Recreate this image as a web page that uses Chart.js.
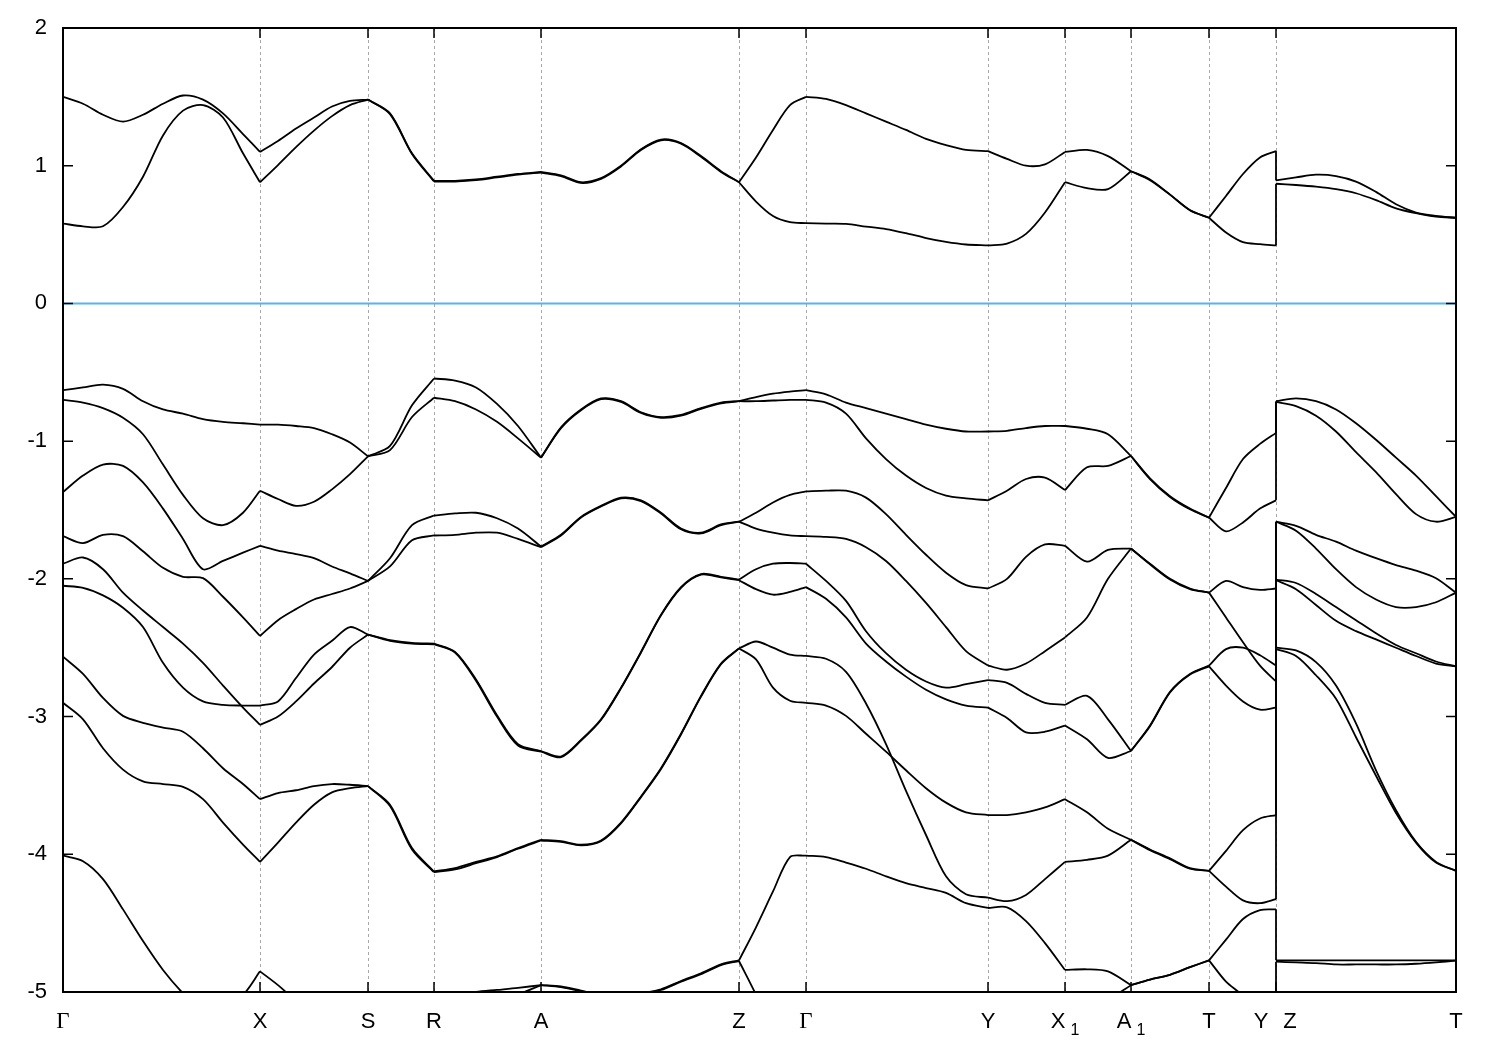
<!DOCTYPE html>
<html>
<head>
<meta charset="utf-8">
<script src="https://cdn.jsdelivr.net/npm/chart.js@4.4.0/dist/chart.umd.min.js"></script>
<style>
html, body { margin: 0; background: #fff; }
#wrap { width: 1500px; height: 1050px; }
</style>
</head>
<body>
<div id="wrap"><canvas id="bandCanvas"></canvas></div>
<script>
// k-path distance of every sample (Y and Z share the same k, hence the jump)
var kPath = [0,20,40,60,80,100,120,140,160,180,197,
  215,233,251,269,287,305,
  327,349,371,
  392,413,434,455,478,
  498,518,538,558,578,598,618,638,658,676,
  693,710,727,743,
  763,783,803,823,843,863,883,903,925,
  944,963,982,1002,
  1024,1045,1068,
  1087,1107,1127,1146,
  1163,1180,1197,1213,
  1213,1233,1253,1273,1293,1313,1333,1353,1373,1393];

// high-symmetry points
var symK = [0,197,305,371,478,676,743,925,1002,1068,1146,1213,1393];
var symLabels = ['Γ','X','S','R','A','Z','Γ','Y','X1','A1','T','Y|Z','T'];
// sample index where each path segment ends (62 -> 63 is the Y|Z jump)
var segEnds = [10,16,19,24,34,38,47,51,54,58,62,63,72];
var yTicks = [2,1,0,-1,-2,-3,-4,-5];

// conduction bands (eV)
var c1 = [0.58,0.56,0.56,0.70,0.92,1.22,1.40,1.44,1.35,1.09,0.88,
  1.005,1.135,1.255,1.36,1.44,1.48,
  1.375,1.085,0.885,
  0.885,0.895,0.915,0.935,0.95,
  0.925,0.875,0.905,0.995,1.115,1.185,1.16,1.065,0.955,0.88,
  0.74,0.635,0.59,0.583,
  0.58,0.578,0.558,0.54,0.51,0.475,0.447,0.428,0.421,
  0.435,0.505,0.66,0.88,
  0.837,0.83,0.96,
  0.895,0.79,0.677,0.622,
  0.515,0.445,0.43,0.421,
  0.869,0.86,0.848,0.83,0.80,0.75,0.69,0.655,0.63,0.622];
var c2 = [1.50,1.45,1.37,1.32,1.37,1.45,1.51,1.48,1.38,1.23,1.10,
  1.18,1.27,1.35,1.43,1.47,1.48,
  1.38,1.09,0.89,
  0.89,0.90,0.92,0.94,0.955,
  0.93,0.88,0.91,1.00,1.12,1.19,1.165,1.07,0.96,0.88,
  1.06,1.26,1.44,1.50,
  1.485,1.44,1.38,1.32,1.26,1.195,1.15,1.115,1.106,
  1.05,1.00,1.01,1.10,
  1.115,1.07,0.96,
  0.90,0.79,0.677,0.622,
  0.78,0.94,1.06,1.106,
  0.893,0.915,0.935,0.925,0.885,0.81,0.72,0.66,0.635,0.622];

// valence bands (eV)
var v1 = [-0.63,-0.61,-0.59,-0.62,-0.71,-0.77,-0.80,-0.84,-0.86,-0.87,-0.88,
  -0.88,-0.89,-0.905,-0.95,-1.01,-1.11,
  -1.035,-0.74,-0.545,
  -0.56,-0.61,-0.73,-0.89,-1.12,
  -0.90,-0.77,-0.69,-0.71,-0.79,-0.825,-0.81,-0.76,-0.72,-0.71,
  -0.68,-0.655,-0.64,-0.63,
  -0.66,-0.72,-0.76,-0.80,-0.84,-0.88,-0.91,-0.93,-0.93,
  -0.925,-0.905,-0.89,-0.89,
  -0.91,-0.95,-1.108,
  -1.27,-1.40,-1.49,-1.555,
  -1.34,-1.13,-1.02,-0.94,
  -0.71,-0.69,-0.71,-0.77,-0.87,-0.99,-1.12,-1.25,-1.40,-1.55];
var v2 = [-0.70,-0.72,-0.76,-0.83,-0.95,-1.17,-1.39,-1.56,-1.61,-1.52,-1.36,
  -1.42,-1.47,-1.44,-1.35,-1.24,-1.11,
  -1.065,-0.825,-0.685,
  -0.71,-0.77,-0.86,-0.98,-1.12,
  -0.905,-0.775,-0.695,-0.715,-0.795,-0.83,-0.815,-0.765,-0.725,-0.71,
  -0.71,-0.705,-0.70,-0.70,
  -0.72,-0.80,-0.98,-1.13,-1.25,-1.34,-1.395,-1.415,-1.43,
  -1.36,-1.275,-1.265,-1.355,
  -1.19,-1.18,-1.108,
  -1.275,-1.405,-1.495,-1.555,
  -1.655,-1.59,-1.49,-1.43,
  -0.715,-0.745,-0.815,-0.93,-1.08,-1.225,-1.385,-1.53,-1.585,-1.55];
var v3 = [-1.37,-1.25,-1.17,-1.18,-1.30,-1.49,-1.71,-1.93,-1.87,-1.81,-1.76,
  -1.795,-1.82,-1.85,-1.91,-1.96,-2.015,
  -1.85,-1.61,-1.54,
  -1.525,-1.52,-1.56,-1.635,-1.765,
  -1.68,-1.55,-1.47,-1.41,-1.43,-1.52,-1.635,-1.665,-1.605,-1.585,
  -1.52,-1.445,-1.39,-1.365,
  -1.36,-1.36,-1.41,-1.53,-1.68,-1.825,-1.955,-2.045,-2.07,
  -2.00,-1.84,-1.75,-1.76,
  -1.875,-1.79,-1.78,
  -1.89,-2.00,-2.07,-2.10,
  -2.015,-2.06,-2.08,-2.07,
  -1.585,-1.615,-1.68,-1.73,-1.795,-1.85,-1.90,-1.94,-1.995,-2.10];
var v4 = [-1.69,-1.74,-1.68,-1.69,-1.80,-1.92,-1.985,-1.995,-2.13,-2.28,-2.415,
  -2.30,-2.22,-2.15,-2.11,-2.07,-2.015,
  -1.91,-1.72,-1.685,
  -1.68,-1.665,-1.665,-1.71,-1.77,
  -1.685,-1.555,-1.475,-1.415,-1.435,-1.525,-1.64,-1.67,-1.61,-1.585,
  -1.635,-1.665,-1.685,-1.69,
  -1.695,-1.71,-1.77,-1.87,-2.015,-2.175,-2.35,-2.525,-2.63,
  -2.66,-2.615,-2.525,-2.425,
  -2.28,-2.00,-1.78,
  -1.895,-2.005,-2.075,-2.10,
  -2.28,-2.46,-2.63,-2.745,
  -1.585,-1.65,-1.78,-1.93,-2.06,-2.15,-2.205,-2.205,-2.17,-2.10];
var v5 = [-1.89,-1.845,-1.93,-2.10,-2.23,-2.35,-2.47,-2.61,-2.775,-2.935,-3.06,
  -3.00,-2.89,-2.76,-2.64,-2.50,-2.405,
  -2.445,-2.465,-2.47,
  -2.53,-2.73,-2.99,-3.20,-3.25,
  -3.29,-3.17,-3.02,-2.79,-2.53,-2.26,-2.06,-1.965,-1.985,-2.005,
  -1.93,-1.89,-1.885,-1.89,
  -2.015,-2.16,-2.38,-2.54,-2.66,-2.745,-2.79,-2.765,-2.735,
  -2.755,-2.835,-2.90,-2.915,
  -2.85,-3.02,-3.25,
  -3.065,-2.82,-2.69,-2.63,
  -2.51,-2.50,-2.555,-2.63,
  -2.005,-2.03,-2.11,-2.205,-2.30,-2.395,-2.48,-2.54,-2.60,-2.635];
var v6 = [-2.05,-2.065,-2.12,-2.21,-2.35,-2.61,-2.79,-2.89,-2.915,-2.92,-2.92,
  -2.89,-2.72,-2.55,-2.45,-2.35,-2.405,
  -2.45,-2.47,-2.475,
  -2.535,-2.74,-3.00,-3.21,-3.255,
  -3.295,-3.175,-3.025,-2.795,-2.535,-2.265,-2.065,-1.97,-1.99,-2.01,
  -2.075,-2.115,-2.095,-2.06,
  -2.145,-2.28,-2.47,-2.60,-2.71,-2.805,-2.875,-2.92,-2.935,
  -3.01,-3.115,-3.11,-3.065,
  -3.165,-3.30,-3.25,
  -3.07,-2.825,-2.695,-2.635,
  -2.775,-2.89,-2.95,-2.935,
  -2.01,-2.075,-2.19,-2.305,-2.38,-2.44,-2.50,-2.56,-2.615,-2.635];
var v7 = [-2.565,-2.69,-2.865,-2.995,-3.045,-3.08,-3.11,-3.23,-3.375,-3.49,-3.60,
  -3.555,-3.535,-3.505,-3.49,-3.495,-3.505,
  -3.64,-3.955,-4.125,
  -4.10,-4.055,-4.015,-3.955,-3.895,
  -3.905,-3.93,-3.90,-3.77,-3.58,-3.375,-3.125,-2.85,-2.615,-2.505,
  -2.455,-2.50,-2.55,-2.56,
  -2.58,-2.675,-2.905,-3.20,-3.54,-3.86,-4.16,-4.29,-4.315,
  -4.34,-4.295,-4.18,-4.055,
  -4.04,-4.01,-3.895,
  -3.965,-4.03,-4.10,-4.12,
  -4.235,-4.335,-4.355,-4.325,
  -2.50,-2.52,-2.605,-2.775,-3.05,-3.39,-3.68,-3.91,-4.055,-4.12];
var v8 = [-2.90,-3.02,-3.23,-3.385,-3.47,-3.49,-3.51,-3.60,-3.77,-3.93,-4.055,
  -3.915,-3.77,-3.64,-3.55,-3.52,-3.505,
  -3.65,-3.965,-4.13,
  -4.11,-4.065,-4.02,-3.96,-3.90,
  -3.91,-3.935,-3.905,-3.775,-3.585,-3.38,-3.13,-2.855,-2.62,-2.505,
  -2.585,-2.79,-2.885,-2.90,
  -2.92,-2.995,-3.125,-3.255,-3.39,-3.52,-3.625,-3.695,-3.715,
  -3.715,-3.695,-3.66,-3.60,
  -3.695,-3.815,-3.895,
  -3.97,-4.035,-4.105,-4.12,
  -3.975,-3.825,-3.74,-3.715,
  -2.51,-2.56,-2.70,-2.87,-3.15,-3.43,-3.70,-3.915,-4.06,-4.12];
var v9 = [-4.01,-4.05,-4.18,-4.40,-4.63,-4.84,-5.01,-5.15,-5.10,-5.02,-4.85,
  -4.95,-5.06,-5.12,-5.15,-5.15,-5.15,
  -5.14,-5.12,-5.10,
  -5.04,-5.00,-4.985,-4.97,-4.95,
  -4.96,-4.99,-5.02,-5.03,-5.01,-4.98,-4.92,-4.865,-4.80,-4.77,
  -4.53,-4.27,-4.02,-4.01,
  -4.02,-4.06,-4.105,-4.16,-4.21,-4.245,-4.28,-4.355,-4.39,
  -4.385,-4.485,-4.645,-4.84,
  -4.835,-4.85,-4.95,
  -4.91,-4.875,-4.82,-4.77,
  -4.62,-4.47,-4.405,-4.40,
  -4.77,-4.77,-4.77,-4.77,-4.77,-4.77,-4.77,-4.77,-4.77,-4.77];
var v10 = [-5.4,-5.4,-5.4,-5.4,-5.4,-5.4,-5.4,-5.4,-5.4,-5.3,-5.25,
  -5.3,-5.4,-5.4,-5.4,-5.4,-5.4,
  -5.4,-5.4,-5.35,
  -5.3,-5.2,-5.1,-5.02,-4.95,
  -4.965,-4.995,-5.025,-5.035,-5.015,-4.985,-4.925,-4.87,-4.805,-4.775,
  -5.02,-5.3,-5.4,-5.4,
  -5.4,-5.4,-5.4,-5.4,-5.4,-5.4,-5.4,-5.4,-5.4,
  -5.4,-5.4,-5.4,-5.4,
  -5.3,-5.07,-4.95,
  -4.91,-4.875,-4.82,-4.77,
  -4.925,-5.03,-5.2,-5.3,
  -4.78,-4.785,-4.79,-4.80,-4.80,-4.80,-4.80,-4.795,-4.785,-4.772];

var bands = [c1, c2, v1, v2, v3, v4, v5, v6, v7, v8, v9, v10];

var labelFont = '22px "Liberation Sans", Arial, sans-serif';
var subFont = '16px "Liberation Sans", Arial, sans-serif';
var gammaFont = '23px "Liberation Serif", "DejaVu Serif", serif';

function drawSymLabel(ctx, text, cx, baseY) {
  ctx.textBaseline = 'alphabetic';
  if (text === 'Γ') {
    ctx.font = gammaFont;
    ctx.textAlign = 'center';
    ctx.fillText(text, cx, baseY);
    return;
  }
  if (text.indexOf('|') >= 0) {
    var parts = text.split('|');
    ctx.font = labelFont;
    ctx.textAlign = 'center';
    ctx.fillText(parts[0], cx - 15, baseY);
    ctx.fillText(parts[1], cx + 14, baseY);
    return;
  }
  if (text.length > 1) {
    var main = text.charAt(0), sub = text.slice(1);
    ctx.font = labelFont;
    var w1 = ctx.measureText(main).width;
    ctx.font = subFont;
    var w2 = ctx.measureText(sub).width;
    var gap = 5;
    var x0 = cx - (w1 + gap + w2) / 2;
    ctx.textAlign = 'left';
    ctx.font = labelFont;
    ctx.fillText(main, x0, baseY);
    ctx.font = subFont;
    ctx.fillText(sub, x0 + w1 + gap, baseY + 7);
    return;
  }
  ctx.font = labelFont;
  ctx.textAlign = 'center';
  ctx.fillText(text, cx, baseY);
}

var framePlugin = {
  id: 'bandFrame',
  beforeDatasetsDraw: function (chart) {
    var ctx = chart.ctx, a = chart.chartArea;
    var xs = chart.scales.x, ys = chart.scales.y;
    ctx.save();
    ctx.strokeStyle = '#a8a8a8';
    ctx.lineWidth = 1;
    ctx.setLineDash([3, 3]);
    for (var i = 1; i < symK.length - 1; i++) {
      var x = Math.round(xs.getPixelForValue(symK[i])) + 0.5;
      ctx.beginPath();
      ctx.moveTo(x, a.top);
      ctx.lineTo(x, a.bottom);
      ctx.stroke();
    }
    ctx.setLineDash([]);
    ctx.strokeStyle = '#56b4e9';
    ctx.lineWidth = 2;
    var y0 = ys.getPixelForValue(0);
    ctx.beginPath();
    ctx.moveTo(a.left, y0);
    ctx.lineTo(a.right, y0);
    ctx.stroke();
    ctx.restore();
  },
  afterDatasetsDraw: function (chart) {
    var ctx = chart.ctx, a = chart.chartArea;
    var xs = chart.scales.x, ys = chart.scales.y;
    ctx.save();
    ctx.strokeStyle = '#000';
    ctx.fillStyle = '#000';
    ctx.lineWidth = 2;
    ctx.strokeRect(a.left, a.top, a.right - a.left, a.bottom - a.top);

    // y ticks, inward on both sides
    ctx.lineWidth = 1.5;
    yTicks.forEach(function (v) {
      var y = ys.getPixelForValue(v);
      ctx.beginPath();
      ctx.moveTo(a.left, y); ctx.lineTo(a.left + 10, y);
      ctx.moveTo(a.right, y); ctx.lineTo(a.right - 10, y);
      ctx.stroke();
      ctx.font = labelFont;
      ctx.textAlign = 'right';
      ctx.textBaseline = 'middle';
      ctx.fillText(String(v), a.left - 16, y);
    });

    // x ticks at high-symmetry points, inward top and bottom
    symK.forEach(function (k, i) {
      var x = xs.getPixelForValue(k);
      ctx.beginPath();
      ctx.moveTo(x, a.bottom); ctx.lineTo(x, a.bottom - 10);
      ctx.moveTo(x, a.top); ctx.lineTo(x, a.top + 10);
      ctx.stroke();
      drawSymLabel(ctx, symLabels[i], x, a.bottom + 36);
    });
    ctx.restore();
  }
};

// one dataset per band per path segment, so kinks at the high-symmetry points stay sharp
var datasets = [];
bands.forEach(function (band) {
  var start = 0;
  segEnds.forEach(function (end) {
    var pts = [];
    for (var i = start; i <= end; i++) pts.push({ x: kPath[i], y: band[i] });
    datasets.push({
      data: pts,
      borderColor: '#000',
      borderWidth: 1.8,
      pointRadius: 0,
      tension: 0.3,
      fill: false
    });
    start = end;
  });
});

new Chart(document.getElementById('bandCanvas'), {
  type: 'line',
  data: { datasets: datasets },
  options: {
    responsive: true,
    maintainAspectRatio: false,
    animation: false,
    layout: { padding: { left: 63, right: 44, top: 28, bottom: 58 } },
    plugins: { legend: { display: false }, tooltip: { enabled: false } },
    scales: {
      x: { type: 'linear', min: 0, max: 1393, display: false },
      y: { type: 'linear', min: -5, max: 2, display: false }
    }
  },
  plugins: [framePlugin]
});
</script>
</body>
</html>
